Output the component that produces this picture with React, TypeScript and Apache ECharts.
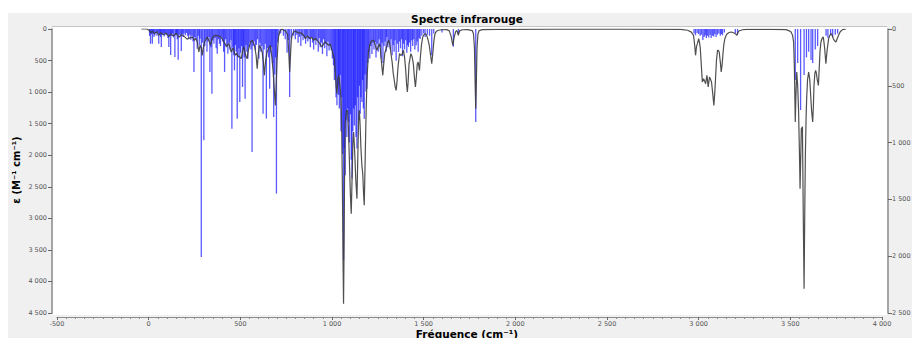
import React, { useEffect, useRef } from "react";
import * as echarts from "echarts";

// Broadened spectrum (frequency cm-1, epsilon M-1 cm-1) — left axis
const curveFreq: number[] = [
  -40, -10, 0, 10, 20, 30, 45, 55, 65, 80, 95, 110, 120, 135, 150, 165, 180, 195, 210, 225, 240, 250, 258, 265, 274, 280, 287, 292, 298, 305, 319, 328, 337, 345, 355, 365, 380, 392, 400, 410, 418, 425, 431, 437, 444, 450, 457, 462, 468, 474, 480, 487, 495, 505, 512, 519, 526, 532, 537, 544, 551, 557, 564, 572, 579, 586, 592, 598, 604, 611, 619, 625, 631, 638, 646, 655, 664, 672, 679, 685, 691, 696, 700, 705, 709, 718, 728, 738, 746, 752, 758, 763, 769, 774, 778, 782, 790, 800, 815, 830, 845, 855, 865, 880, 890, 900, 910, 925, 935, 945, 955, 963, 972, 981, 990, 1000, 1008, 1013, 1018, 1022, 1027, 1032, 1036, 1040, 1045, 1049, 1053, 1057, 1060, 1063, 1066, 1069, 1072, 1078, 1085, 1090, 1095, 1100, 1105, 1110, 1114, 1118, 1123, 1130, 1136, 1141, 1145, 1149, 1153, 1158, 1163, 1168, 1172, 1176, 1180, 1184, 1187, 1190, 1193, 1199, 1206, 1212, 1220, 1227, 1236, 1245, 1252, 1259, 1264, 1268, 1273, 1277, 1282, 1288, 1296, 1303, 1310, 1316, 1322, 1328, 1334, 1340, 1345, 1350, 1355, 1360, 1368, 1375, 1382, 1390, 1396, 1402, 1407, 1411, 1415, 1420, 1430, 1437, 1444, 1450, 1455, 1460, 1465, 1470, 1477, 1482, 1488, 1495, 1502, 1508, 1515, 1522, 1530, 1538, 1544, 1550, 1556, 1562, 1570, 1580, 1600, 1626, 1640, 1650, 1659, 1667, 1675, 1682, 1689, 1696, 1710, 1740, 1765, 1772, 1777, 1781, 1784, 1787, 1791, 1796, 1803, 1820, 1900, 2200, 2600, 2900, 2940, 2960, 2972, 2978, 2983, 2988, 2993, 3000, 3005, 3009, 3014, 3020, 3027, 3033, 3038, 3045, 3052, 3059, 3065, 3070, 3076, 3083, 3088, 3092, 3097, 3103, 3108, 3112, 3118, 3123, 3128, 3132, 3137, 3143, 3150, 3156, 3166, 3177, 3190, 3200, 3208, 3214, 3219, 3240, 3260, 3400, 3477, 3495, 3504, 3512, 3518, 3522, 3527, 3531, 3535, 3540, 3545, 3550, 3553, 3557, 3560, 3566, 3570, 3575, 3579, 3582, 3586, 3589, 3594, 3600, 3606, 3611, 3616, 3622, 3626, 3629, 3634, 3638, 3642, 3646, 3650, 3653, 3658, 3662, 3667, 3673, 3680, 3687, 3694, 3700, 3709, 3716, 3722, 3728, 3734, 3742, 3749, 3756, 3763, 3773, 3785, 3803,
];
const curveEps: number[] = [
  0, 0, 15, 60, 35, 70, 45, 100, 60, 90, 65, 120, 80, 110, 70, 130, 90, 120, 160, 140, 130, 180, 150, 206, 364, 259, 300, 417, 300, 206, 127, 180, 259, 160, 110, 100, 110, 127, 150, 206, 240, 285, 250, 232, 300, 364, 320, 300, 380, 417, 380, 430, 440, 470, 360, 285, 380, 440, 470, 330, 259, 200, 180, 220, 285, 420, 629, 400, 259, 300, 364, 500, 734, 500, 364, 300, 259, 450, 681, 950, 1210, 850, 523, 250, 100, 20, 5, 20, 30, 60, 80, 300, 681, 400, 180, 100, 50, 30, 60, 60, 100, 153, 110, 150, 130, 180, 150, 200, 240, 285, 230, 206, 230, 259, 240, 338, 420, 470, 681, 900, 1025, 800, 734, 800, 950, 1104, 1600, 2600, 3600, 4353, 3400, 2100, 1500, 1300, 1289, 1600, 2100, 2600, 2927, 2300, 1800, 1632, 1900, 2400, 2689, 2000, 1450, 1289, 1500, 1900, 2160, 2300, 2600, 2794, 2200, 1600, 1210, 900, 681, 364, 250, 206, 180, 180, 260, 338, 280, 232, 320, 470, 620, 734, 560, 380, 312, 220, 180, 260, 400, 523, 700, 820, 920, 972, 820, 600, 391, 420, 400, 338, 450, 650, 880, 998, 850, 560, 391, 440, 560, 780, 919, 760, 560, 523, 655, 450, 250, 127, 90, 74, 90, 150, 250, 420, 550, 380, 180, 74, 35, 20, 12, 10, 30, 120, 259, 120, 40, 25, 100, 30, 12, 10, 25, 80, 300, 900, 1263, 900, 300, 80, 25, 10, 5, 3, 3, 5, 20, 50, 100, 250, 417, 280, 232, 153, 220, 312, 550, 840, 787, 830, 866, 734, 919, 761, 800, 840, 1000, 1210, 1000, 787, 500, 338, 340, 364, 520, 681, 560, 417, 250, 153, 100, 74, 55, 48, 60, 74, 100, 60, 32, 12, 5, 5, 10, 30, 48, 100, 206, 600, 1474, 1000, 681, 900, 1300, 2000, 2531, 2000, 1580, 1550, 2800, 4116, 2800, 2002, 1400, 1104, 800, 681, 800, 1051, 1300, 1474, 1200, 893, 700, 655, 700, 787, 850, 893, 600, 350, 206, 150, 127, 300, 550, 350, 153, 100, 74, 100, 153, 190, 206, 150, 100, 40, 10, 0,
];

// Computed transitions (stick spectrum) — right axis
const stickFreq: number[] = [
  5, 10, 15, 20, 25, 29, 34, 40, 45, 50, 55, 60, 65, 69, 75, 80, 85, 90, 95, 100, 105, 110, 115, 120, 125, 130, 135, 143, 148, 152, 156, 161, 166, 172, 178, 183, 188, 193, 200, 206, 212, 218, 224, 230, 236, 242, 247, 252, 258, 265, 270, 276, 280, 287, 293, 301, 306, 312, 318, 323, 329, 334, 340, 345, 350, 356, 362, 368, 374, 380, 386, 392, 398, 404, 409, 414, 420, 426, 432, 438, 443, 449, 454, 460, 464, 468, 473, 478, 483, 488, 492, 497, 502, 507, 512, 517, 521, 526, 531, 536, 541, 546, 552, 558, 564, 570, 576, 582, 588, 594, 601, 607, 612, 618, 624, 630, 636, 642, 648, 654, 660, 666, 671, 676, 682, 688, 692, 697, 703, 710, 720, 735, 745, 755, 762, 769, 778,
  790, 800, 808, 815, 822, 830, 836, 842, 850, 856, 862, 868, 875, 882, 888, 894, 900, 906, 912, 918, 925, 930, 936, 942, 948, 954, 960, 966, 972, 978, 984, 990, 996, 1002, 1008, 1013, 1018, 1022, 1027, 1032, 1036, 1040, 1045, 1049, 1054, 1058, 1063, 1067, 1072, 1076, 1081, 1085, 1090, 1095, 1100, 1105, 1109, 1114, 1118, 1122, 1127, 1131, 1136, 1140, 1145, 1150, 1154, 1158, 1163, 1167, 1171, 1176, 1180, 1185, 1190, 1195, 1200, 1206, 1212, 1218, 1224, 1229, 1235, 1240, 1246, 1252, 1257, 1263, 1268, 1273, 1278, 1284, 1290, 1295, 1299, 1305, 1311, 1317, 1322, 1328, 1334, 1339, 1344, 1350, 1356, 1363, 1368, 1374, 1380, 1385, 1390, 1396, 1402, 1408, 1413, 1417, 1423, 1429, 1435, 1440, 1446, 1452, 1459, 1465, 1470, 1476, 1481, 1490, 1500, 1508, 1520, 1532, 1544, 1555, 1600, 1662, 1690, 1784,
  2975, 2983, 2992, 3000, 3008, 3015, 3023, 3030, 3036, 3042, 3048, 3055, 3062, 3068, 3075, 3082, 3088, 3095, 3102, 3110, 3118, 3124, 3130, 3140, 3200, 3212,
  3527, 3540, 3556, 3575, 3588, 3600, 3613, 3622, 3636, 3649, 3695, 3705, 3720, 3731, 3745, 3758,
];
const stickIntensity: number[] = [
  60, 130, 45, 129, 40, 70, 55, 35, 60, 30, 129, 45, 70, 158, 50, 40, 65, 35, 55, 45, 80, 158, 50, 229, 60, 40, 75, 246, 55, 40, 90, 270, 50, 60, 194, 45, 70, 40, 55, 35, 60, 80, 50, 95, 60, 110, 378, 70, 90, 173, 60, 140, 85, 2006, 120, 980, 150, 90, 200, 110, 70, 378, 160, 569, 100, 130, 80, 170, 217, 90, 130, 150, 70, 110, 200, 378, 90, 150, 217, 120, 180, 100, 877, 160, 230, 364, 140, 200, 789, 250, 170, 642, 210, 150, 510, 180, 250, 613, 140, 200, 261, 160, 120, 180, 1082, 150, 110, 185, 140, 90, 261, 120, 200, 150, 745, 180, 130, 789, 170, 250, 527, 210, 160, 300, 774, 400, 250, 1449, 120, 60, 40, 60, 90, 210, 100, 598, 80,
  60, 90, 50, 120, 70, 150, 60, 100, 80, 130, 60, 110, 90, 160, 70, 120, 180, 90, 140, 100, 200, 80, 160, 120, 220, 90, 170, 130, 240, 110, 190, 150, 185, 260, 320, 450, 380, 600, 672, 500, 580, 700, 405, 900, 600, 1100, 2033, 1053, 1287, 800, 950, 700, 818, 1000, 750, 1150, 1317, 900, 700, 850, 672, 950, 1053, 600, 800, 500, 745, 600, 642, 450, 700, 789, 400, 550, 525, 300, 200, 260, 150, 220, 120, 180, 114, 250, 130, 200, 90, 158, 260, 120, 300, 150, 110, 200, 70, 160, 120, 173, 90, 230, 140, 200, 100, 280, 130, 202, 110, 170, 90, 240, 129, 180, 100, 210, 140, 158, 120, 200, 100, 150, 90, 180, 144, 110, 200, 80, 88, 60, 40, 70, 50, 60, 232, 40, 30, 156, 40, 818,
  40, 55, 35, 45, 60, 50, 97, 70, 55, 80, 60, 75, 50, 80, 60, 65, 45, 70, 50, 40, 60, 45, 55, 30, 35, 50,
  449, 300, 713, 405, 250, 200, 273, 300, 180, 150, 60, 80, 45, 70, 50, 40,
];

const xTicks: number[] = [-500, 0, 500, 1000, 1500, 2000, 2500, 3000, 3500, 4000];
const leftTicks: number[] = [0, 500, 1000, 1500, 2000, 2500, 3000, 3500, 4000, 4500];
const rightTicks: number[] = [0, 500, 1000, 1500, 2000, 2500];

const fmt = (v: number) => {
  const s = String(Math.abs(v)).replace(/\B(?=(\d{3})+(?!\d))/g, " ");
  return v < 0 ? "-" + s : s;
};

const FONT = "DejaVu Sans";

export default function App() {
  const ref = useRef<HTMLDivElement>(null);
  useEffect(() => {
    if (!ref.current) return;
    const chart = echarts.init(ref.current, undefined, { renderer: "svg" });
    const curve = curveFreq.map((f, i) => [f, curveEps[i]]);
    const sticks = stickFreq.map((f, i) => [f, stickIntensity[i]]);
    const labelStyle = { fontFamily: FONT, fontSize: 6.5, color: "#555" };
    chart.setOption({
      animation: false,
      backgroundColor: "#f0f0f0",
      grid: { left: 49, top: 16, width: 825, height: 284 },
      graphic: [
        { type: "rect", z: -10, shape: { x: 45, y: 13, width: 834, height: 289 }, style: { fill: "#ffffff" }, silent: true },
        { type: "line", z: -9, shape: { x1: 44, y1: 13.5, x2: 879, y2: 13.5 }, style: { stroke: "#c4c4c4", lineWidth: 1 }, silent: true },
        { type: "text", x: 459, y: 6, style: { text: "Spectre infrarouge", font: `bold 10.5px "${FONT}"`, fill: "#000", textAlign: "center", textVerticalAlign: "middle" } },
        { type: "text", x: 459, y: 320.5, style: { text: "Fréquence (cm⁻¹)", font: `bold 10.5px "${FONT}"`, fill: "#000", textAlign: "center", textVerticalAlign: "middle" } },
        { type: "text", x: 8.5, y: 157, rotation: Math.PI / 2, style: { text: "ε (M⁻¹ cm⁻¹)", font: `bold 10px "${FONT}"`, fill: "#000", textAlign: "center", textVerticalAlign: "middle" } },
        { type: "text", x: 913, y: 157, rotation: Math.PI / 2, style: { text: "Intensité IR (km/mol)", font: `bold 10px "${FONT}"`, fill: "#000", textAlign: "center", textVerticalAlign: "middle" } },
      ],
      xAxis: {
        type: "value",
        min: xTicks[0],
        max: xTicks[xTicks.length - 1],
        interval: 500,
        offset: 4,
        axisLine: { show: true, onZero: false, lineStyle: { color: "#8c8c8c", width: 1.2 } },
        axisTick: { show: true, length: 3, lineStyle: { color: "#666" } },
        minorTick: { show: true, splitNumber: 10, length: 2, lineStyle: { color: "#888" } },
        splitLine: { show: false },
        axisLabel: { ...labelStyle, margin: 3, formatter: (v: number) => fmt(v) },
      },
      yAxis: [
        {
          type: "value",
          inverse: true,
          min: leftTicks[0],
          max: leftTicks[leftTicks.length - 1],
          interval: 500,
          offset: 5,
          position: "left",
          axisLine: { show: true, onZero: false, lineStyle: { color: "#8c8c8c", width: 1.5 } },
          axisTick: { show: true, length: 4, lineStyle: { color: "#666" } },
          splitLine: { show: false },
          axisLabel: { ...labelStyle, margin: 5, formatter: (v: number) => fmt(v) },
        },
        {
          type: "value",
          inverse: true,
          min: rightTicks[0],
          max: rightTicks[rightTicks.length - 1],
          interval: 500,
          offset: 6,
          position: "right",
          axisLine: { show: true, onZero: false, lineStyle: { color: "#8c8c8c", width: 1.5 } },
          axisTick: { show: true, length: 4, lineStyle: { color: "#666" } },
          splitLine: { show: false },
          axisLabel: { ...labelStyle, margin: 4, formatter: (v: number) => fmt(v) },
        },
      ],
      series: [
        {
          type: "custom",
          yAxisIndex: 1,
          data: sticks,
          encode: { x: 0, y: 1 },
          z: 2,
          renderItem: (params: any, api: any) => {
            const p0 = api.coord([api.value(0), 0]);
            const p1 = api.coord([api.value(0), api.value(1)]);
            return {
              type: "line",
              shape: { x1: p0[0], y1: p0[1], x2: p1[0], y2: p1[1] },
              style: { stroke: "#0000ff", opacity: 0.65, lineWidth: 1.3 },
            };
          },
        },
        {
          type: "line",
          yAxisIndex: 0,
          data: curve,
          showSymbol: false,
          z: 3,
          lineStyle: { color: "#3c3c3c", width: 1.2, opacity: 0.9 },
        },
      ],
    });
    return () => chart.dispose();
  }, []);
  return (
    <div style={{ width: 912, height: 330, paddingTop: 5, boxSizing: "border-box" }}>
      <div ref={ref} style={{ width: 912, height: 325 }} />
    </div>
  );
}
